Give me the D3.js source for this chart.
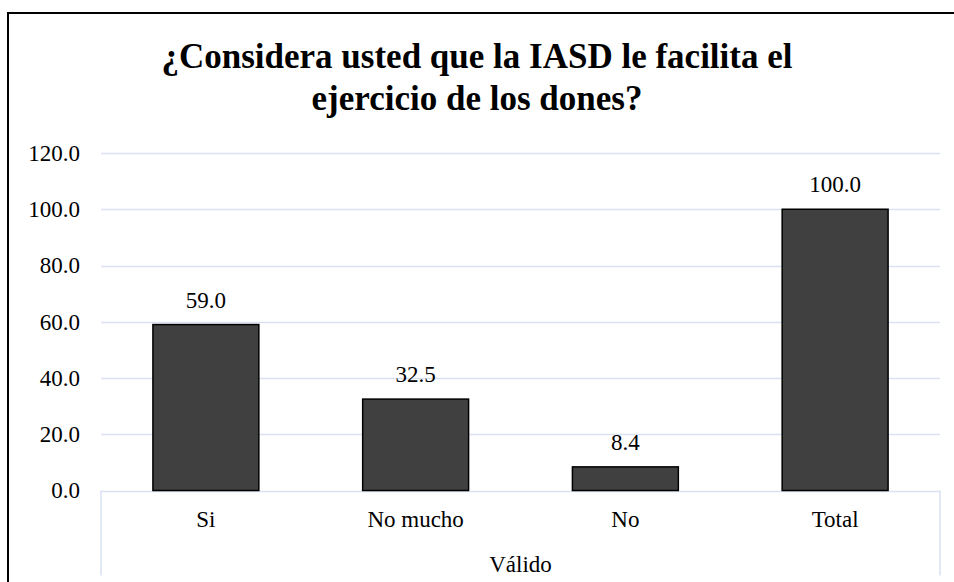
<!DOCTYPE html>
<html>
<head>
<meta charset="utf-8">
<script src="https://cdn.jsdelivr.net/npm/d3@7"></script>
<style>
  body { margin: 0; background: #fff; }
  svg { display: block; }
</style>
</head>
<body>
<div id="chart"></div>
<script>
// data
var categories = ["Si", "No mucho", "No", "Total"];
var values = [59.0, 32.5, 8.4, 100.0];
var yTicks = [0, 20, 40, 60, 80, 100, 120];
var groupLabel = "Válido";
var titleLines = ["¿Considera usted que la IASD le facilita el", "ejercicio de los dones?"];

var FONT = "Liberation Serif";
var width = 954, height = 582;
var margin = {top: 153, right: 14, bottom: 91.5, left: 101};
var innerW = width - margin.left - margin.right,
    innerH = height - margin.top - margin.bottom;

var svg = d3.select("#chart")
  .append("svg")
    .attr("width", width)
    .attr("height", height)
    .attr("font-family", FONT);

// outer frame
svg.append("rect")
  .attr("x", 8).attr("y", 13)
  .attr("width", 960).attr("height", 600)
  .attr("fill", "none")
  .attr("stroke", "#000")
  .attr("stroke-width", 2);

// title
svg.append("text")
  .attr("x", 477).attr("y", 68)
  .attr("text-anchor", "middle")
  .attr("font-family", FONT)
  .attr("font-size", 35)
  .attr("font-weight", "bold")
  .selectAll("tspan")
  .data(titleLines)
  .enter()
  .append("tspan")
    .attr("x", 477)
    .attr("dy", function(d, i) { return i == 0 ? 0 : 42; })
    .text(function(d) { return d; });

var g = svg.append("g")
  .attr("transform", "translate(" + margin.left + "," + margin.top + ")");

var x = d3.scaleBand()
  .domain(categories)
  .range([0, innerW])
  .paddingInner(0.495)
  .paddingOuter(0.2475);

var y = d3.scaleLinear()
  .domain([0, 120])
  .range([innerH, 0]);

// gridlines
g.selectAll(".grid")
  .data(yTicks)
  .enter()
  .append("line")
    .attr("x1", 0)
    .attr("x2", innerW)
    .attr("y1", function(d) { return Math.round(y(d)) + 0.5; })
    .attr("y2", function(d) { return Math.round(y(d)) + 0.5; })
    .attr("stroke", "#d9e2f3")
    .attr("stroke-width", 1.5);

// y labels
var yAxis = g.append("g")
  .call(d3.axisLeft(y).tickValues(yTicks).tickSize(0).tickPadding(21)
    .tickFormat(d3.format(".1f")));
yAxis.attr("font-family", FONT).attr("font-size", 23);
yAxis.select(".domain").remove();
yAxis.selectAll("text").attr("fill", "#000");

// bars
g.selectAll(".bar")
  .data(values)
  .enter()
  .append("rect")
    .attr("x", function(d, i) { return x(categories[i]); })
    .attr("y", function(d) { return y(d); })
    .attr("width", x.bandwidth())
    .attr("height", function(d) { return innerH - y(d); })
    .attr("fill", "#404040")
    .attr("stroke", "#000")
    .attr("stroke-width", 1.5);

// value labels
g.selectAll(".lbl")
  .data(values)
  .enter()
  .append("text")
    .attr("x", function(d, i) { return x(categories[i]) + x.bandwidth() / 2; })
    .attr("y", function(d) { return y(d) - 17; })
    .attr("text-anchor", "middle")
    .attr("font-family", FONT)
    .attr("font-size", 23)
    .text(function(d) { return d3.format(".1f")(d); });

// category labels
g.selectAll(".cat")
  .data(categories)
  .enter()
  .append("text")
    .attr("x", function(d) { return x(d) + x.bandwidth() / 2; })
    .attr("y", innerH + 36)
    .attr("text-anchor", "middle")
    .attr("font-family", FONT)
    .attr("font-size", 23)
    .text(function(d) { return d; });

// group edges
g.selectAll(".sep")
  .data([0, innerW])
  .enter()
  .append("line")
    .attr("x1", function(d) { return d; })
    .attr("x2", function(d) { return d; })
    .attr("y1", innerH)
    .attr("y2", innerH + 85)
    .attr("stroke", "#d9e2f3")
    .attr("stroke-width", 1.5);

g.append("text")
  .attr("x", innerW / 2)
  .attr("y", innerH + 81)
  .attr("text-anchor", "middle")
  .attr("font-family", FONT)
  .attr("font-size", 23)
  .text(groupLabel);
</script>
</body>
</html>
